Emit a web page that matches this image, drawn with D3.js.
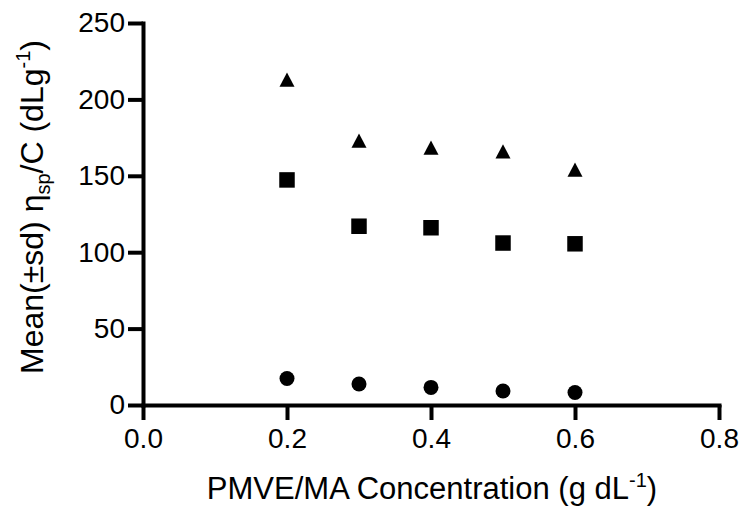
<!DOCTYPE html>
<html>
<head>
<meta charset="utf-8">
<script src="https://cdn.jsdelivr.net/npm/d3@7"></script>
<style>
  html, body { margin: 0; padding: 0; background: #fff; }
  svg { display: block; font-family: "Liberation Sans", Arial, sans-serif; }
</style>
</head>
<body>
<svg id="chart" width="742" height="511"></svg>
<script>
// ---- data ----
const concentrations = [0.2, 0.3, 0.4, 0.5, 0.6];
const triangleSeries = [213, 173, 168.5, 166, 154];
const squareSeries   = [147.3, 117, 116, 106, 105.5];
const circleSeries   = [17.3, 13.7, 11.5, 9.2, 8.2];
const xTicks = [0.0, 0.2, 0.4, 0.6, 0.8];
const yTicks = [0, 50, 100, 150, 200, 250];
const xTitle = "PMVE/MA Concentration (g dL";
const yTitle = "Mean(±sd) η";

const svg = d3.select("#chart");
const x = d3.scaleLinear().domain([0, 0.8]).range([143, 719]);
const y = d3.scaleLinear().domain([0, 250]).range([405, 23]);

// axes
const xAxis = svg.append("g").attr("transform", "translate(0,405)")
  .call(d3.axisBottom(x).tickValues(xTicks).tickFormat(d3.format(".1f"))
        .tickSize(15).tickSizeOuter(0).tickPadding(8));
const yAxis = svg.append("g").attr("transform", "translate(143,0)")
  .call(d3.axisLeft(y).tickValues(yTicks).tickFormat(d3.format("d"))
        .tickSize(15).tickSizeOuter(0).tickPadding(3));
[xAxis, yAxis].forEach(g => {
  g.select(".domain").attr("stroke", "#000").attr("stroke-width", 4).attr("stroke-linecap", "square");
  g.selectAll(".tick line").attr("stroke", "#000").attr("stroke-width", 4);
  g.selectAll(".tick text").attr("fill", "#000").style("font-size", "28px")
    .style("font-family", "'Liberation Sans', Arial, sans-serif");
});

// custom triangle centered on its bounding box
const triBox = {
  draw(ctx, size) {
    const w = Math.sqrt(size), h = w * 0.95;
    ctx.moveTo(0, -h / 2);
    ctx.lineTo(w / 2, h / 2);
    ctx.lineTo(-w / 2, h / 2);
    ctx.closePath();
  }
};

const series = [
  { values: triangleSeries, sym: d3.symbol().type(triBox).size(15 * 15) },
  { values: squareSeries,   sym: d3.symbol().type(d3.symbolSquare).size(15.5 * 15.5) },
  { values: circleSeries,   sym: d3.symbol().type(d3.symbolCircle).size(Math.PI * 7.5 * 7.5) }
];
series.forEach(s => {
  svg.append("g").selectAll("path")
    .data(concentrations.map((c, i) => [c, s.values[i]]))
    .join("path")
    .attr("d", s.sym)
    .attr("transform", d => `translate(${x(d[0])},${y(d[1])})`)
    .attr("fill", "#000");
});

// x title
const xt = svg.append("text")
  .attr("x", 432).attr("y", 499)
  .attr("text-anchor", "middle")
  .style("font-size", "31px").attr("fill", "#000");
xt.append("tspan").text(xTitle);
xt.append("tspan").attr("dy", -12).style("font-size", "20px").text("-1");
xt.append("tspan").attr("dy", 12).text(")");

// y title
const yt = svg.append("text")
  .attr("transform", "translate(43,207) rotate(-90)")
  .attr("text-anchor", "middle")
  .style("font-size", "32px").attr("fill", "#000");
yt.append("tspan").text(yTitle);
yt.append("tspan").attr("dy", 7).style("font-size", "20px").text("sp");
yt.append("tspan").attr("dy", -7).text("/C (dLg");
yt.append("tspan").attr("dy", -13).style("font-size", "20px").text("-1");
yt.append("tspan").attr("dy", 13).text(")");
</script>
</body>
</html>
